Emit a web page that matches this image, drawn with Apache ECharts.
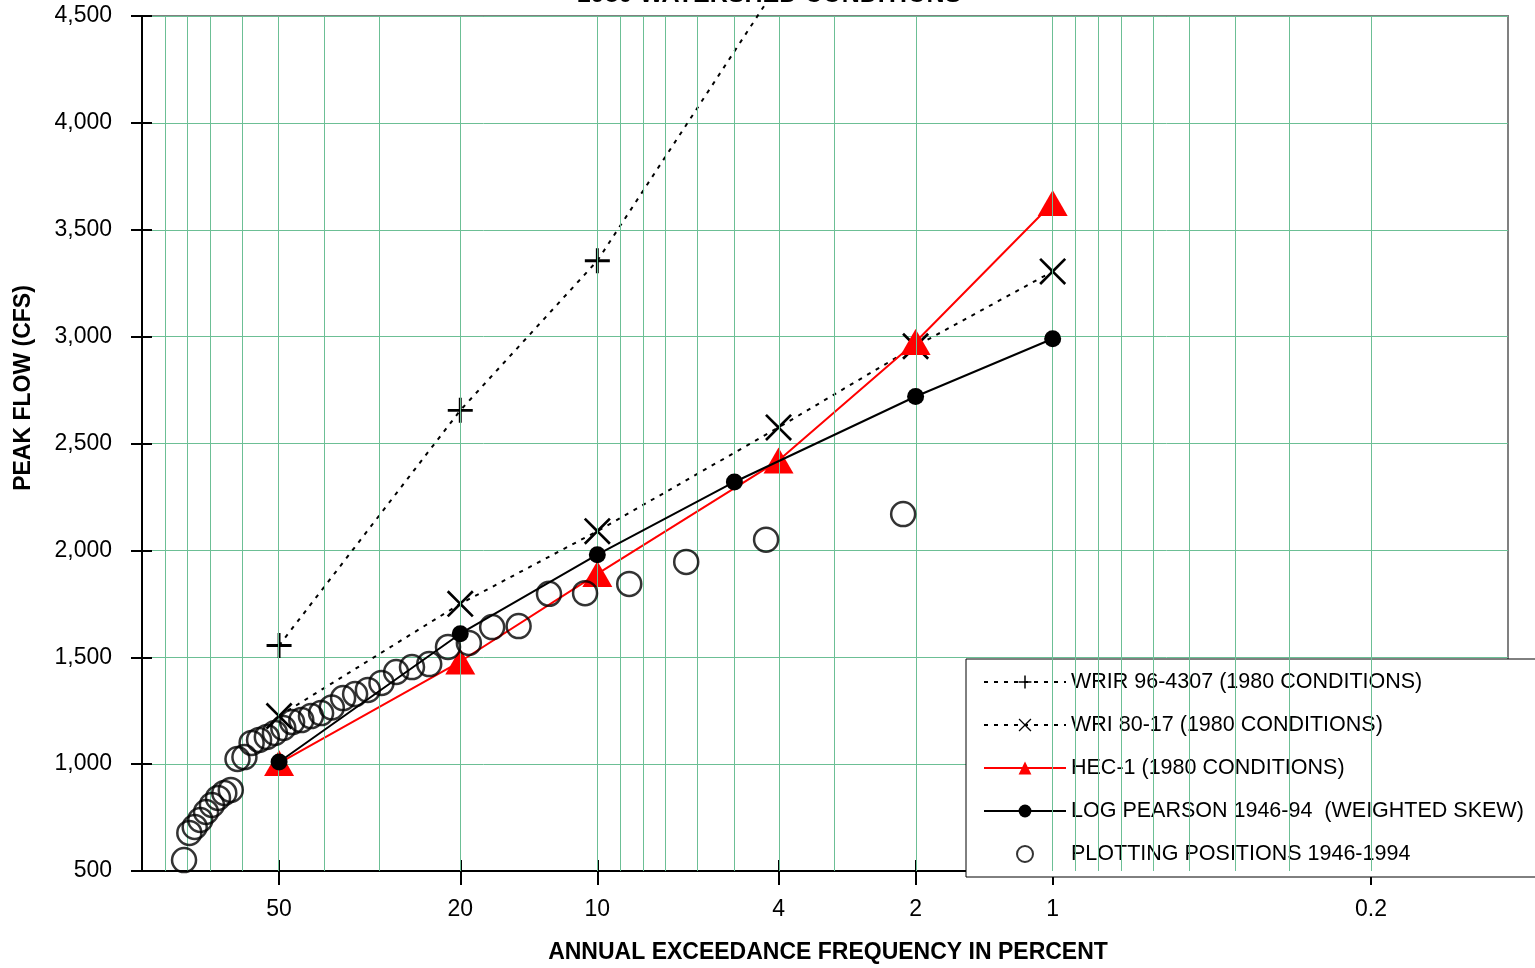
<!DOCTYPE html>
<html><head><meta charset="utf-8">
<script src="https://cdn.jsdelivr.net/npm/echarts@6/dist/echarts.min.js"></script>
<style>html,body{margin:0;padding:0;background:#fff}#c{width:1535px;height:968px}</style>
</head><body><div id="c"></div>
<script>
// Annual exceedance frequency (percent) and peak flow (cfs)
const wrirP = [50, 20, 10, 4];
const wrirQ = [1555, 2655, 3355, 4650];
const wriP = [50, 20, 10, 4, 2, 1];
const wriQ = [1225, 1750, 2090, 2575, 2955, 3305];
const hecP = [50, 20, 10, 4, 2, 1];
const hecQ = [1005, 1480, 1890, 2420, 2975, 3625];
const lpP = [50, 20, 10, 5, 2, 1];
const lpQ = [1010, 1610, 1980, 2320, 2720, 2990];
const ppP = [2.13, 4.26, 6.38, 8.51, 10.64, 12.77, 14.89, 17.02, 19.15, 21.28, 23.40, 25.53, 27.66, 29.79, 31.91, 34.04, 36.17, 38.30, 40.43, 42.55, 44.68, 46.81, 48.94, 51.06, 53.19, 55.32, 57.45, 59.57, 61.70, 63.83, 65.96, 68.09, 70.21, 72.34, 74.47, 76.60, 78.72, 80.85];
const ppQ = [2170, 2050, 1946, 1843, 1800, 1797, 1646, 1641, 1567, 1548, 1468, 1454, 1431, 1380, 1347, 1328, 1309, 1265, 1239, 1225, 1206, 1197, 1169, 1146, 1127, 1113, 1099, 1033, 1024, 879, 865, 842, 809, 776, 739, 706, 678, 551];
const xTickP = [50, 20, 10, 4, 2, 1, 0.2];
const xGridP = [90, 80, 70, 60, 50, 40, 30, 20, 10, 9, 8, 7, 6, 5, 4, 3, 2, 1, 0.9, 0.8, 0.7, 0.6, 0.5, 0.4, 0.3, 0.2];
const names = ['WRIR 96-4307 (1980 CONDITIONS)', 'WRI 80-17 (1980 CONDITIONS)', 'HEC-1 (1980 CONDITIONS)', 'LOG PEARSON 1946-94  (WEIGHTED SKEW)', 'PLOTTING POSITIONS 1946-1994'];

// probability axis: position = log10 of return period (100 / percent)
const toX = p => Math.log10(100 / p);
const pts = (P, Q) => P.map((p, i) => [toX(p), Q[i]]);
const FONT = '"Liberation Sans", Arial, sans-serif';
const PLUS = 'path://M10.6,0 L13.4,0 L13.4,10.6 L24,10.6 L24,13.4 L13.4,13.4 L13.4,24 L10.6,24 L10.6,13.4 L0,13.4 L0,10.6 L10.6,10.6 Z';
const CROSS = 'path://M0,1.4 L1.4,0 L10,8.6 L18.6,0 L20,1.4 L11.4,10 L20,18.6 L18.6,20 L10,11.4 L1.4,20 L0,18.6 L8.6,10 Z';
const GREEN = '#6cbf95';
const dash = {color: '#000', width: 2, type: [4, 6]};

const chart = echarts.init(document.getElementById('c'), null, {renderer: 'canvas'});
chart.setOption({
  animation: false,
  backgroundColor: '#fff',
  grid: {left: 142, right: 27, top: 16, bottom: 97, show: true, borderColor: '#808080', borderWidth: 2, backgroundColor: 'transparent'},
  xAxis: [{
    type: 'value', min: 0, max: 3, position: 'bottom',
    axisLine: {onZero: false, lineStyle: {color: '#000', width: 2}},
    axisTick: {customValues: xTickP.map(toX), length: 14, lineStyle: {color: '#000', width: 2}},
    axisLabel: {customValues: xTickP.map(toX), margin: 27, fontSize: 23, color: '#000', fontFamily: FONT,
      formatter: v => String(+(100 / Math.pow(10, v)).toPrecision(3))},
    splitLine: {show: false}
  }, {
    type: 'value', min: 0, max: 3, position: 'top', offset: -855,
    axisLine: {show: false, onZero: false},
    axisTick: {customValues: xTickP.map(toX), length: 11, lineStyle: {color: '#000', width: 2}},
    axisLabel: {show: false},
    splitLine: {show: false}
  }],
  yAxis: [{
    type: 'value', min: 500, max: 4500, interval: 500, position: 'left',
    axisLine: {show: true, onZero: false, lineStyle: {color: '#000', width: 2}},
    axisTick: {show: true, length: 11, lineStyle: {color: '#000', width: 2}},
    axisLabel: {margin: 30, fontSize: 23, color: '#000', fontFamily: FONT,
      formatter: v => v.toLocaleString('en-US')},
    splitLine: {show: true, lineStyle: {color: GREEN, width: 1}}
  }, {
    type: 'value', min: 500, max: 4500, interval: 500, position: 'right', offset: -1366,
    axisLine: {show: false, onZero: false},
    axisTick: {show: true, length: 10, lineStyle: {color: '#000', width: 2}},
    axisLabel: {show: false},
    splitLine: {show: false}
  }],
  legend: {
    data: names, orient: 'vertical', left: 966, top: 659, align: 'left',
    padding: [12, 30, 12, 17], itemWidth: 82, itemHeight: 16, itemGap: 21,
    backgroundColor: '#fff', borderColor: '#000', borderWidth: 1,
    textStyle: {fontSize: 21.5, lineHeight: 22, color: '#000', fontFamily: FONT},
    selectedMode: false
  },
  graphic: [
    {type: 'text', x: 769, y: 8, style: {text: '1980 WATERSHED CONDITIONS', font: 'bold 25px ' + FONT, fill: '#000', align: 'center', verticalAlign: 'bottom'}},
    {type: 'text', x: 24, y: 388, rotation: Math.PI / 2, style: {text: 'PEAK FLOW (CFS)', font: 'bold 23px ' + FONT, fill: '#000', align: 'center', verticalAlign: 'middle'}},
    {type: 'text', x: 828, y: 953, style: {text: 'ANNUAL EXCEEDANCE FREQUENCY IN PERCENT', font: 'bold 23px ' + FONT, fill: '#000', align: 'center', verticalAlign: 'middle'}}
  ],
  series: [
    {type: 'line', name: 'grid', data: [], z: 1, silent: true,
      markLine: {silent: true, symbol: ['none', 'none'], label: {show: false}, animation: false,
        lineStyle: {color: GREEN, width: 1, type: 'solid'},
        emphasis: {disabled: true},
        data: xGridP.map(p => ({xAxis: toX(p)}))}},
    {type: 'line', name: names[0], data: pts(wrirP, wrirQ), clip: false, z: 3,
      symbol: PLUS, symbolSize: 25, itemStyle: {color: '#000', borderWidth: 0}, lineStyle: dash},
    {type: 'line', name: names[1], data: pts(wriP, wriQ), z: 3,
      symbol: CROSS, symbolSize: 27, itemStyle: {color: '#000', borderWidth: 0}, lineStyle: dash},
    {type: 'line', name: names[2], data: pts(hecP, hecQ), z: 4,
      symbol: 'triangle', symbolSize: [30, 26], itemStyle: {color: '#ff0000', borderWidth: 0}, lineStyle: {color: '#ff0000', width: 2}},
    {type: 'line', name: names[3], data: pts(lpP, lpQ), z: 5,
      symbol: 'circle', symbolSize: 17, itemStyle: {color: '#000', borderWidth: 0}, lineStyle: {color: '#000', width: 2}},
    {type: 'scatter', name: names[4], data: pts(ppP, ppQ), z: 6,
      symbol: 'circle', symbolSize: 24, itemStyle: {color: 'rgba(0,0,0,0)', borderColor: '#000', borderWidth: 2.5}}
  ]
});
</script></body></html>
